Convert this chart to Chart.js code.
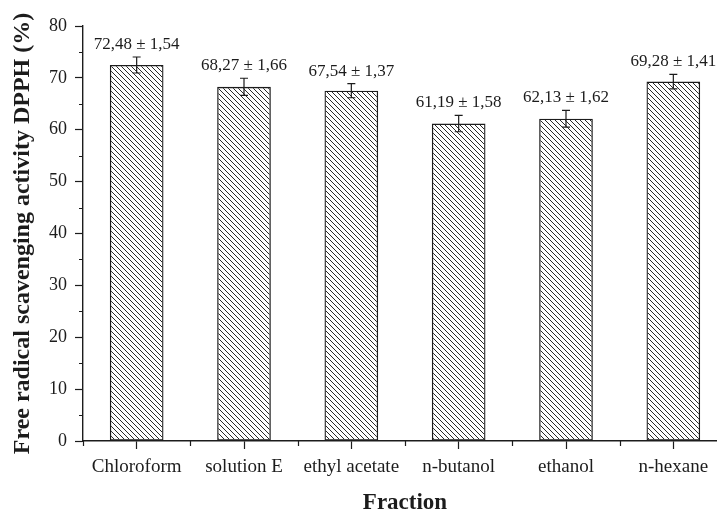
<!DOCTYPE html>
<html lang="en"><head>
<meta charset="utf-8">
<title>DPPH</title>
<style type="text/css">
html, body { margin:0; padding:0; background:#ffffff; overflow:hidden; }
#box { width:740px; height:525px; }
</style>
<script src="https://cdn.jsdelivr.net/npm/chart.js"></script>
<script>
// data
var fractions=['Chloroform','solution E','ethyl acetate','n-butanol','ethanol','n-hexane'];
var meanVals=[72.48,68.27,67.54,61.19,62.13,69.28];
var sdVals=[1.54,1.66,1.37,1.58,1.62,1.41];
var yTicks=[0,10,20,30,40,50,60,70,80];

var serif="'Liberation Serif','Times New Roman',serif";
var ink='#1c1c1c';

function hatch() {
  var n=5, c=document.createElement('canvas'); c.width=n; c.height=n;
  var g=c.getContext('2d'); g.strokeStyle='#2a2a2a'; g.lineWidth=1;
  for (var k=-n;k<=n;k+=n) { g.beginPath(); g.moveTo(k,0); g.lineTo(k+n,n); g.stroke(); }
  return g.createPattern(c,'repeat');
}

function fmt(v) { return v.toFixed(2).replace('.',','); }

// error bars, value labels and the minor ticks
var extras={id:'extras',
  afterDatasetsDraw:function(chart) {
    var ctx=chart.ctx, xs=chart.scales.x, ys=chart.scales.y;
    ctx.save(); ctx.strokeStyle=ink; ctx.lineWidth=1.2;
    for (var i=0;i<meanVals.length;i++) {
      var x=xs.getPixelForValue(i);
      var top=ys.getPixelForValue(meanVals[i]+sdVals[i]);
      var bot=ys.getPixelForValue(meanVals[i]-sdVals[i]);
      ctx.beginPath();
      ctx.moveTo(x,top); ctx.lineTo(x,bot);
      ctx.moveTo(x-4,top); ctx.lineTo(x+4,top);
      ctx.moveTo(x-4,bot); ctx.lineTo(x+4,bot);
      ctx.stroke();
      ctx.fillStyle=ink; ctx.font='17px '+serif; ctx.textAlign='center'; ctx.textBaseline='alphabetic';
      ctx.fillText(fmt(meanVals[i])+' \u00b1 '+fmt(sdVals[i]),x,top-8);
    }
    ctx.restore(); },
  afterDraw:function(chart) {
    var ctx=chart.ctx, xs=chart.scales.x, ys=chart.scales.y;
    ctx.save(); ctx.strokeStyle=ink; ctx.lineWidth=1.2; ctx.beginPath();
    for (var v=5;v<80;v+=10) {
      var y=Math.round(ys.getPixelForValue(v))+0.5;
      ctx.moveTo(ys.right-4,y); ctx.lineTo(ys.right,y); }
    for (var i=0;i<=fractions.length;i++) {
      var x=Math.round(xs.getPixelForValue(i-0.5))+0.5;
      ctx.moveTo(x,xs.top); ctx.lineTo(x,xs.top+5); }
    ctx.stroke(); ctx.restore(); }};

function initChart() {
  var data={labels:fractions,datasets:[{
    data:meanVals,backgroundColor:hatch(),borderColor:ink,borderWidth:1.3,
    borderSkipped:false,barPercentage:0.5,categoryPercentage:1}]};

  var config={type:'bar',data:data,plugins:[extras],options:{
    responsive:false,animation:false,events:[],
    layout:{padding:{top:26,right:13,left:0,bottom:0}},
    plugins:{legend:{display:false},tooltip:{enabled:false}},
    scales:{
      x:{offset:true,
        grid:{display:true,drawOnChartArea:false,offset:false,tickLength:8,tickColor:ink,tickWidth:1.2},
        border:{display:true,color:ink,width:1.4},
        ticks:{color:ink,font:{family:serif,size:19},padding:7,maxRotation:0},
        title:{display:true,text:'Fraction',color:ink,font:{family:serif,size:23,weight:'bold'},padding:{top:4,bottom:8}},
        afterFit:function(s){ s.height=84; }},
      y:{min:0,max:80,
        afterBuildTicks:function(s){ s.ticks=yTicks.map(function(v){return {value:v};}); },
        grid:{display:true,drawOnChartArea:false,tickLength:8,tickColor:ink,tickWidth:1.2},
        border:{display:true,color:ink,width:1.4},
        ticks:{color:ink,font:{family:serif,size:18},padding:8},
        title:{display:true,text:'Free radical scavenging activity DPPH (%)',color:ink,
          font:{family:serif,size:24,weight:'bold'},padding:{top:8,bottom:4}},
        afterFit:function(s){ s.width=83; }}}}};

  new Chart(document.getElementById('myChart'),config); }
</script></head>
<body onload="initChart();">
<div id="box"><canvas id="myChart" width="740" height="525"></canvas></div>
</body></html>
